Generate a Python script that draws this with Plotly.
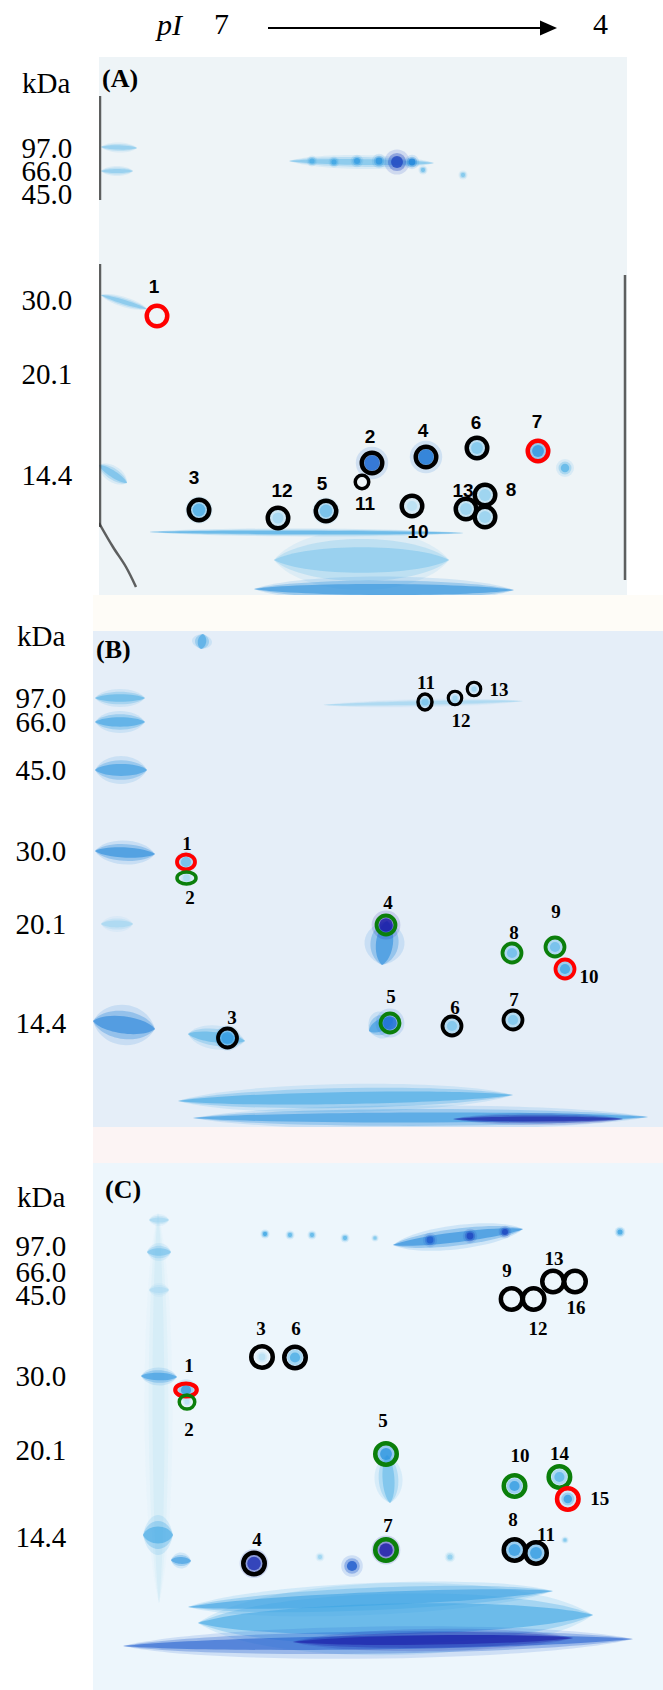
import math
import plotly.graph_objects as go
from plotly.colors import sample_colorscale

W, H = 663, 1690

# ---------------- data (gel coordinates: px from the gel's top-left corner) ----------------
kda_text = ["97.0", "66.0", "45.0", "30.0", "20.1", "14.4"]
A_kda_y = [91, 114, 137, 243, 317, 418]
B_kda_y = [67, 91, 139, 220, 293, 392]
C_kda_y = [83, 109, 132, 213, 287, 374]

# circled spots
A_labels = ["1", "3", "12", "5", "11", "2", "4", "10", "6", "13", "8", "", "7"]
A_x = [58, 100, 179, 227, 263, 273, 327, 313, 378, 367, 386, 386, 439]
A_y = [259, 453, 461, 454, 425, 406, 400, 449, 391, 452, 438, 460, 394]
A_group = ["red", "black", "black", "black", "black", "black", "black",
           "black", "black", "black", "black", "black", "red"]

B_labels = ["1", "2", "3", "4", "5", "6", "7", "8", "9", "10", "11", "12", "13"]
B_x = [93, 93.5, 134.5, 293, 297, 359, 420, 419, 462, 472, 332, 362, 381]
B_y = [231, 247, 407, 294, 392, 395, 389, 322, 316, 338, 71, 67, 58]
B_group = ["red", "green", "black", "green", "green", "black", "black",
           "green", "green", "red", "black", "black", "black"]

C_labels = ["1", "2", "3", "6", "4", "5", "7", "8", "11", "9", "12", "13", "16", "10", "14", "15"]
C_x = [93, 94, 169, 202, 161, 293, 293, 421.5, 443, 418.6, 440.6, 460, 482, 421.5, 466.4, 474.8]
C_y = [227, 239, 194, 194.5, 400.5, 291, 387, 387, 390, 136, 136, 118.5, 118.5, 323, 314, 336]
C_group = ["red", "green", "black", "black", "black", "green", "green", "black", "black",
           "black", "black", "black", "black", "green", "green", "red"]

# stained protein spots: x, y, size, intensity
A_spots = [
    (100, 453, 15, 0.45), (179, 461, 13, 0.18), (227, 454, 15, 0.35), (273, 406, 18, 0.8),
    (327, 400, 18, 0.75), (378, 391, 14, 0.3), (439, 394, 14, 0.6), (367, 452, 14, 0.22),
    (386, 438, 14, 0.22), (386, 460, 14, 0.22), (313, 449, 12, 0.1), (466, 411, 10, 0.4),
    (298, 105, 14, 0.9), (213, 104, 6, 0.45), (235, 105, 6, 0.5), (258, 104, 7, 0.55),
    (280, 104, 8, 0.6), (313, 105, 8, 0.7), (324, 113, 5, 0.35), (364, 118, 5, 0.3),
]
B_spots = [
    (93, 231, 12, 0.35), (93.5, 247, 8, 0.15), (134.5, 407, 14, 0.55), (293, 294, 16, 1.0),
    (297, 392, 16, 0.78), (359, 395, 12, 0.3), (420, 389, 12, 0.3), (419, 322, 12, 0.35),
    (462, 316, 12, 0.35), (472, 338, 12, 0.5), (332, 71, 8, 0.3), (362, 67, 6, 0.2),
    (381, 58, 6, 0.2),
]
C_spots = [
    (172, 71, 5, 0.5), (197, 72, 5, 0.4), (219, 72, 5, 0.4),
    (252, 75, 5, 0.4), (282, 75, 4, 0.3), (337, 77, 8, 0.85), (377, 73, 8, 0.9),
    (412, 69, 7, 0.9), (527, 69, 6, 0.5),
    (93, 227, 12, 0.55), (94, 239, 6, 0.1), (169, 194, 8, 0.1), (202, 194.5, 12, 0.45),
    (161, 400.5, 16, 0.95), (293, 291, 14, 0.6), (293, 387, 16, 1.0), (421.5, 387, 14, 0.55),
    (443, 390, 14, 0.55), (421.5, 323, 12, 0.55), (466.4, 314, 12, 0.4), (474.8, 336, 10, 0.55),
    (259, 403, 12, 0.85), (227, 394, 5, 0.2), (357, 394, 6, 0.25), (472, 377, 4, 0.3),
]

# smears and bands: x0, y0, x1, y1, thickness, intensity
A_streaks = [
    (190, 104, 335, 106, 7, 0.35), (2, 90, 38, 91, 5, 0.3), (2, 114, 34, 114, 5, 0.3),
    (2, 238, 48, 252, 5, 0.35), (0, 408, 28, 426, 8, 0.4),
    (50, 475, 365, 476, 4, 0.5), (175, 503, 350, 503, 30, 0.3),
    (155, 532, 415, 533, 13, 0.65),
]
B_streaks = [
    (2, 67, 52, 67, 9, 0.45), (2, 91, 52, 91, 11, 0.55), (2, 139, 54, 139, 14, 0.6),
    (2, 220, 62, 223, 12, 0.7), (8, 293, 40, 293, 8, 0.2), (0, 390, 62, 398, 20, 0.72),
    (110, 3, 108, 18, 10, 0.55), (95, 403, 152, 410, 12, 0.45),
    (294, 290, 289, 334, 20, 0.68), (276, 400, 300, 388, 14, 0.62), (230, 74, 430, 70, 4, 0.2),
    (85, 470, 420, 464, 14, 0.5), (100, 487, 555, 486, 12, 0.6), (360, 488, 530, 488, 6, 1.0),
]
C_streaks = [
    (65, 50, 66, 440, 14, 0.02), (56, 57, 76, 57, 6, 0.2), (54, 89, 78, 89, 9, 0.35),
    (56, 127, 76, 127, 7, 0.15), (48, 213, 84, 214, 9, 0.6), (50, 372, 80, 372, 20, 0.5),
    (300, 82, 430, 66, 12, 0.7),
    (294, 292, 297, 340, 14, 0.4), (78, 397, 98, 398, 8, 0.6),
    (95, 444, 460, 428, 16, 0.55), (105, 460, 500, 452, 36, 0.5),
    (30, 483, 540, 476, 16, 0.85), (200, 479, 480, 475, 11, 1.0),
]

# dark border pieces of gel A
A_edges = [
    [(1, 39), (1, 143)],
    [(1, 207), (1, 470)],
    [(0, 466), (14, 490), (27, 510), (37, 530)],
    [(526, 218), (526, 523)],
]

# ---------------- layout / styling ----------------
GELS = {"A": (99, 627, 57, 595), "B": (93, 663, 631, 1127), "C": (93, 663, 1163, 1690)}
GEL_FILL = {"A": "#eef4f7", "B": "#e5eef8", "C": "#edf6fc"}
RING_COLOR = {"black": "#000000", "red": "#ff0000", "green": "#0b7f0b"}
RING = {"A": (20.5, 20.5, 4.5), "B": (19, 19, 3.8), "C": (21.5, 21.5, 4.5)}
RING_SPECIAL = {
    ("A", "11"): (13.5, 13.5, 3.5),
    ("B", "1"): (18, 15, 3.8), ("B", "2"): (19, 12, 3.5),
    ("B", "11"): (14, 16, 3.5), ("B", "12"): (13.5, 13.5, 3.2), ("B", "13"): (13.5, 13.5, 3.2),
    ("C", "1"): (21.5, 13, 4.2), ("C", "2"): (15.5, 14, 3.5),
}
NUDGE = {
    "A": [(-3, -28), (-5, -31), (4, -26), (-4, -26), (3, 23), (-2, -25), (-3, -25),
          (6, 27), (-1, -24), (-3, -17), (26, -4), (0, 0), (-1, -28)],
    "B": [(1, -17), (3.5, 21), (4.5, -19), (2, -21), (1, -25), (3, -17), (1, -19),
          (2, -19), (1, -34), (24, 9), (1, -18), (6, 24), (25, 2)],
    "C": [(3, -23), (2, 29), (-1, -27), (1, -27.5), (3, -22.5), (-3, -32), (2, -23),
          (-1.5, -29), (10, -17), (-4.6, -27), (4.4, 31), (1, -21.5), (1, 27.5),
          (5.5, -29), (0, -21.5), (32, 1)],
}
# text positions outside the gels, in page px
KDA_POS = {"A": (20, 83), "B": (15, 636), "C": (15, 1197)}
LETTER_POS = {"A": (100, 78), "B": (94, 650), "C": (103, 1189)}
SPOT_SCALE = [[0.0, "#d4ecf7"], [0.25, "#8ccdee"], [0.5, "#3ea6e4"],
              [0.7, "#1f86db"], [0.85, "#1f5ccd"], [1.0, "#1c1aa6"]]
SERIF = "Liberation Serif"
SANS = "Liberation Sans"


def px(x):
    return x / W


def py(y):
    return 1 - y / H


def lens_path(x0, y0, x1, y1, w):
    # tapered smear between two points, full thickness w at the middle
    dx, dy = x1 - x0, y1 - y0
    L = math.hypot(dx, dy) or 1.0
    nx, ny = -dy / L, dx / L
    t = w / 1.5
    pts = []
    for f, s in [(0.18, 1), (0.82, 1), (0.82, -1), (0.18, -1)]:
        pts.append((x0 + dx * f + nx * t * s, y0 + dy * f + ny * t * s))
    (a1, b1), (a2, b2), (a3, b3), (a4, b4) = pts
    return (f"M {x0},{y0} C {a1},{b1} {a2},{b2} {x1},{y1} "
            f"C {a3},{b3} {a4},{b4} {x0},{y0} Z")


panels = [
    ("A", "x", "y", A_kda_y, A_labels, A_x, A_y, A_group, A_spots, A_streaks),
    ("B", "x2", "y2", B_kda_y, B_labels, B_x, B_y, B_group, B_spots, B_streaks),
    ("C", "x3", "y3", C_kda_y, C_labels, C_x, C_y, C_group, C_spots, C_streaks),
]

fig = go.Figure()
shapes = []
annotations = []
layout_axes = {}

# pale strips between the gels (watermark tint)
shapes.append(dict(type="rect", xref="paper", yref="paper", layer="below",
                   x0=px(93), x1=1, y0=py(631), y1=py(595),
                   fillcolor="#fefcf7", line=dict(width=0)))
shapes.append(dict(type="rect", xref="paper", yref="paper", layer="below",
                   x0=px(93), x1=1, y0=py(1163), y1=py(1127),
                   fillcolor="#fcf4f4", line=dict(width=0)))

for name, xa, ya, kda_y, labels, rx, ry, group, spots, streaks in panels:
    gx0, gx1, gy0, gy1 = GELS[name]
    xkey = "xaxis" + xa[1:]
    ykey = "yaxis" + ya[1:]
    layout_axes[xkey] = dict(domain=[px(gx0), px(gx1)], range=[0, gx1 - gx0], anchor=ya,
                             showgrid=False, zeroline=False, showticklabels=False, fixedrange=True)
    layout_axes[ykey] = dict(domain=[py(gy1), py(gy0)], range=[gy1 - gy0, 0], anchor=xa,
                             showgrid=False, zeroline=False, fixedrange=True,
                             tickmode="array", tickvals=kda_y, ticktext=kda_text,
                             ticks="outside", ticklen=20, tickcolor="rgba(0,0,0,0)",
                             tickfont=dict(family=SERIF, size=29, color="black"))

    # gel background
    shapes.append(dict(type="rect", xref=xa + " domain", yref=ya + " domain", layer="below",
                       x0=0, x1=1, y0=0, y1=1, fillcolor=GEL_FILL[name], line=dict(width=0)))

    # smears (soft edged)
    for x0, y0, x1, y1, w, v in streaks:
        c = sample_colorscale(SPOT_SCALE, [v])[0]
        for k, a in [(2.0, 0.15), (1.4, 0.3), (0.85, 0.55)]:
            shapes.append(dict(type="path", xref=xa, yref=ya, layer="below",
                               path=lens_path(x0, y0, x1, y1, w * k),
                               fillcolor=c, opacity=a, line=dict(width=0)))

    # spots (soft edged)
    sx = [s[0] for s in spots]
    sy = [s[1] for s in spots]
    ss = [s[2] for s in spots]
    sv = [s[3] for s in spots]
    for k, a in [(1.8, 0.15), (1.3, 0.35), (0.85, 0.8)]:
        fig.add_trace(go.Scatter(x=sx, y=sy, mode="markers", xaxis=xa, yaxis=ya,
                                 marker=dict(size=[v * k for v in ss], color=sv, colorscale=SPOT_SCALE,
                                             cmin=0, cmax=1, opacity=a, line=dict(width=0)),
                                 hoverinfo="skip", showlegend=False))

    # rings
    for lab, x, y, g in zip(labels, rx, ry, group):
        w, h, lw = RING_SPECIAL.get((name, lab), RING[name])
        shapes.append(dict(type="circle", xref=xa, yref=ya, x0=x - w / 2, x1=x + w / 2,
                           y0=y - h / 2, y1=y + h / 2, line=dict(color=RING_COLOR[g], width=lw)))

    # spot numbers
    lx = [x + d[0] for x, d in zip(rx, NUDGE[name])]
    ly = [y + d[1] for y, d in zip(ry, NUDGE[name])]
    fam = SANS if name == "A" else SERIF
    fig.add_trace(go.Scatter(x=lx, y=ly, mode="text", xaxis=xa, yaxis=ya,
                             text=["<b>%s</b>" % t for t in labels],
                             textfont=dict(family=fam, size=19, color="black"),
                             cliponaxis=False, hoverinfo="skip", showlegend=False))

    # kDa heading and panel letter
    kx, ky = KDA_POS[name]
    annotations.append(dict(x=px(kx), y=py(ky), xref="paper", yref="paper", text="kDa",
                            showarrow=False, xanchor="left", yanchor="middle",
                            font=dict(family=SERIF, size=29, color="black")))
    lx0, ly0 = LETTER_POS[name]
    annotations.append(dict(x=px(lx0), y=py(ly0), xref="paper", yref="paper",
                            text="<b>(%s)</b>" % name, showarrow=False,
                            xanchor="left", yanchor="middle",
                            font=dict(family=SERIF, size=26, color="black")))

# dark borders of gel A
for seg in A_edges:
    fig.add_trace(go.Scatter(x=[p[0] for p in seg], y=[p[1] for p in seg], mode="lines",
                             xaxis="x", yaxis="y", line=dict(color="#3a3a3a", width=2.5, shape="spline"),
                             opacity=0.8, hoverinfo="skip", showlegend=False))

# pI direction header
shapes.append(dict(type="line", xref="paper", yref="paper",
                   x0=px(268), x1=px(545), y0=py(28), y1=py(28),
                   line=dict(color="black", width=2)))
shapes.append(dict(type="path", xref="paper", yref="paper",
                   path=f"M {px(557)},{py(28)} L {px(540)},{py(20.5)} L {px(540)},{py(35.5)} Z",
                   fillcolor="black", line=dict(width=0)))
for txt, x, y in [("<i>pI</i>", 169, 25), ("7", 222, 23), ("4", 600, 23)]:
    annotations.append(dict(x=px(x), y=py(y), xref="paper", yref="paper", text=txt,
                            showarrow=False, xanchor="center", yanchor="middle",
                            font=dict(family=SERIF, size=30, color="black")))

fig.update_layout(
    width=W, height=H, margin=dict(l=0, r=0, t=0, b=0),
    paper_bgcolor="white", plot_bgcolor="rgba(0,0,0,0)",
    shapes=shapes, annotations=annotations, showlegend=False,
    **layout_axes,
)

fig.write_html("out.html", config={"displayModeBar": False},
               post_script="document.body.style.margin='0';")
